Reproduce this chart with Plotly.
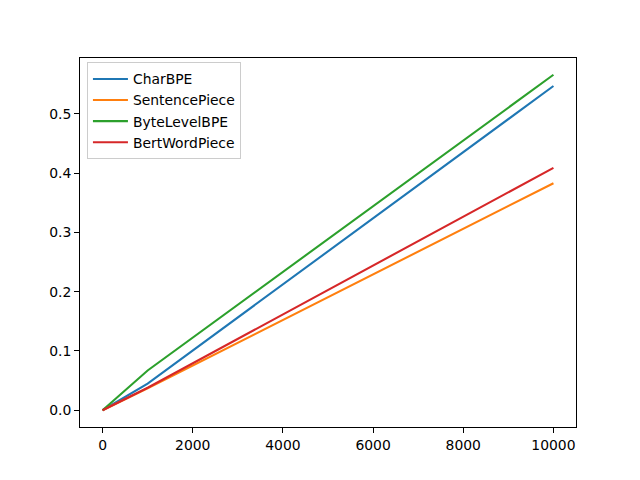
import plotly.graph_objects as go

x_vals = [0, 1000, 10000]
series_names = ["CharBPE", "SentencePiece", "ByteLevelBPE", "BertWordPiece"]
series_values = [
    [0.0, 0.045, 0.547],
    [0.0, 0.037, 0.383],
    [0.0, 0.067, 0.566],
    [0.0, 0.038, 0.409],
]
colors = ["#1f77b4", "#ff7f0e", "#2ca02c", "#d62728"]
x_ticks = [0, 2000, 4000, 6000, 8000, 10000]
y_ticks = [0.0, 0.1, 0.2, 0.3, 0.4, 0.5]

fig = go.Figure()
for name, vals, c in zip(series_names, series_values, colors):
    fig.add_trace(go.Scatter(x=x_vals, y=vals, mode="lines", name=name,
                             line=dict(color=c, width=2.08)))

font = dict(family="DejaVu Sans", size=13.9, color="black")
fig.update_layout(
    width=640, height=480,
    margin=dict(l=80, r=64, t=57.6, b=52.8, pad=0),
    paper_bgcolor="white", plot_bgcolor="white",
    font=font,
    showlegend=True,
    legend=dict(x=0.014, y=0.988, xanchor="left", yanchor="top",
                bordercolor="#cccccc", borderwidth=1, bgcolor="rgba(255,255,255,0.8)",
                font=dict(family="DejaVu Sans", size=13.9, color="black"),
                itemwidth=35, tracegroupgap=0),
)
axis_common = dict(showgrid=False, zeroline=False, showline=True, linecolor="black",
                   linewidth=1, mirror=True, ticks="outside", ticklen=5, tickwidth=1,
                   tickcolor="black")
fig.update_xaxes(range=[-500, 10500], tickvals=x_ticks,
                 ticktext=[str(t) for t in x_ticks], **axis_common)
fig.update_yaxes(range=[-0.0283, 0.5943], tickvals=y_ticks,
                 ticktext=[f"{t:.1f}" for t in y_ticks], **axis_common)

fig.write_html("out.html")
